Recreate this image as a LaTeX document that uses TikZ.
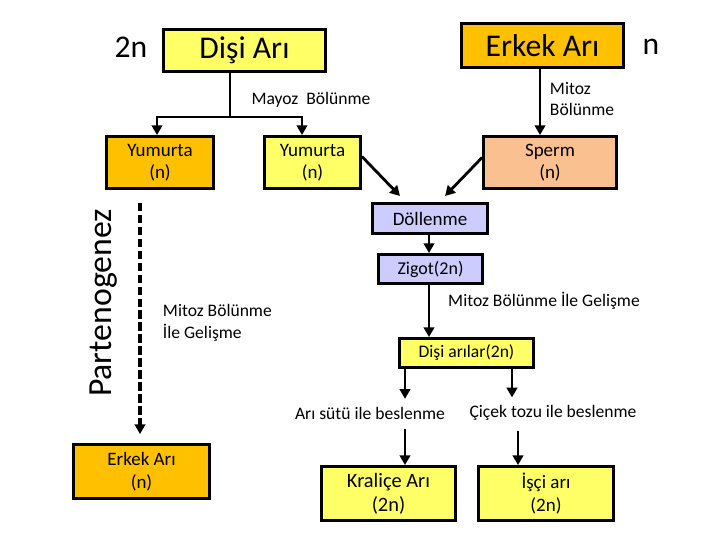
\documentclass[tikz,border=0pt]{standalone}
\usepackage{fontspec}
\setmainfont{Carlito}
\usepackage{tikz}
\usetikzlibrary{calc,arrows.meta}

\definecolor{sari}{HTML}{FFFF66}
\definecolor{turuncu}{HTML}{FFC000}
\definecolor{seftali}{HTML}{FAC090}
\definecolor{lila}{HTML}{CCCCFF}

\begin{document}
\begin{tikzpicture}[>={Triangle[length=7pt,width=7.5pt]}, x=0.025cm, y=-0.025cm,
		box/.style={draw, line width=2pt, align=center, inner sep=0pt, font=\fontsize{13.5}{16}\selectfont},
		boy/.style 2 args={minimum width=#1*0.025cm, minimum height=#2*0.025cm},
		bigtxt/.style={font=\fontsize{22.5}{26}\selectfont},
		smalltxt/.style={font=\fontsize{12.5}{15.5}\selectfont, align=left},
		ok/.style={->, line width=2pt}]
		\useasboundingbox (0,0) rectangle (720,540);
		% top row
		\node[box, bigtxt, fill=sari, boy={162}{42}] (disi) at (244.5,50.5) {Dişi Arı};
		\node[box, bigtxt, fill=turuncu, boy={162}{44}] (erkek) at (542.5,45.5) {Erkek Arı};
		\node[bigtxt] (ikin) at (131,47) {2n};
		\node[bigtxt] (tekn) at (651,47) {n};
		% gametes
		\node[box, fill=turuncu, boy={107}{52}] (yumA) at (160,162.5) {Yumurta\\(n)};
		\node[box, fill=sari, boy={96}{52}] (yumB) at (312.5,162.5) {Yumurta\\(n)};
		\node[box, fill=seftali, boy={133}{52}] (sperm) at (550,162.5) {Sperm\\(n)};
		% fertilisation
		\node[box, fill=lila, boy={115}{30}] (dol) at (430,218.5) {Döllenme};
		\node[box, fill=lila, boy={104}{29}, font=\fontsize{12.8}{15}\selectfont] (zigot) at (430.5,269) {Zigot(2n)};
		\node[box, fill=sari, boy={134}{29}, font=\fontsize{12.5}{15}\selectfont] (disilar) at (466.5,353) {Dişi arılar(2n)};
		\node[smalltxt] (sutu) at (370,413) {Arı sütü ile beslenme};
		\node[smalltxt] (cicek) at (553,413) {Çiçek tozu ile beslenme};
		\node[box, fill=sari, boy={134}{54}, font=\fontsize{14.5}{17}\selectfont] (kralice) at (388.5,493.5) {Kraliçe Arı\\(2n)};
		\node[box, fill=sari, boy={135}{54}] (isci) at (546,493.5) {İşçi arı\\(2n)};
		\node[box, fill=turuncu, boy={136}{54}] (erkekB) at (141.5,471.5) {Erkek Arı\\(n)};
		% labels
		\node[smalltxt] (mayoz) at (311,100) {Mayoz\ \ Bölünme};
		\node[smalltxt, anchor=west] (mitozA) at (545,99) {Mitoz\\Bölünme};
		\node[smalltxt] (mitozB) at (544,301) {Mitoz Bölünme İle Gelişme};
		\node[smalltxt, anchor=west] (mitozC) at (158,323) {Mitoz Bölünme\\İle Gelişme};
		\node[rotate=90, font=\fontsize{24}{27}\selectfont] (parten) at (104,303) {Partenogenez};
		% connectors
		\coordinate (split) at (230,117);
		\coordinate (yolA) at (157,0);
		\coordinate (yolB) at (302,0);
		\coordinate (spk) at (540,0);
		\coordinate (dinL) at (400,196);
		\coordinate (dinR) at (445,196);
		\coordinate (orta) at (429,0);
		\coordinate (solk) at (405,0);
		\coordinate (sagk) at (512,0);
		\coordinate (sagk2) at (518,0);
		\coordinate (kesik) at (140,0);
		\draw[line width=2pt] (split |- disi.south) -- (split);
		\draw[ok] (split) -| (yumA.north -| yolA);
		\draw[ok] (split) -| (yumB.north -| yolB);
		\draw[ok] (erkek.south -| spk) -- (sperm.north -| spk);
		\draw[ok] ($(yumB.east)+(0,-6)$) -- (dinL);
		\draw[ok] ($(sperm.west)+(0,-5)$) -- (dinR);
		\draw[ok] (dol.south -| orta) -- (zigot.north -| orta);
		\draw[ok] (zigot.south -| orta) -- (disilar.north -| orta);
		\draw[ok] (disilar.south -| solk) -- ($(sutu.north -| solk)+(0,-3)$);
		\draw[ok] (disilar.south -| sagk) -- ($(cicek.north -| sagk)+(0,-3)$);
		\draw[ok] ($(sutu.south -| solk)+(0,5)$) -- (kralice.north -| solk);
		\draw[ok] ($(cicek.south -| sagk2)+(0,5)$) -- (isci.north -| sagk2);
		\draw[->, line width=2.6pt, dash pattern=on 6pt off 2.5pt] ($(yumA.south -| kesik)+(0,13)$) -- ($(erkekB.north -| kesik)+(0,-9)$);
	\end{tikzpicture}
\end{document}
